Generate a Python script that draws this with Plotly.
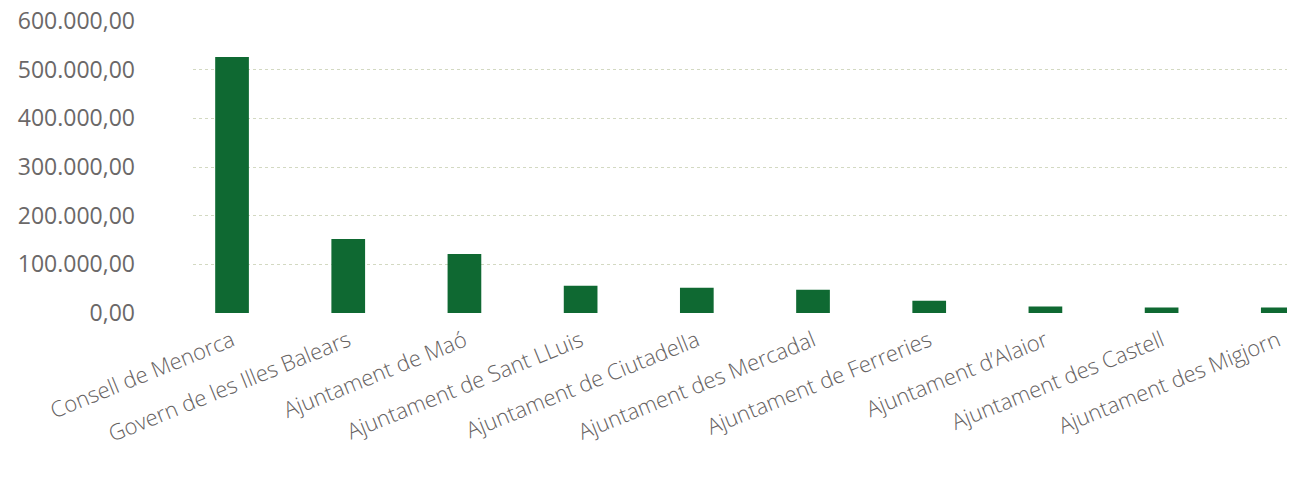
import plotly.graph_objects as go

categories = [
    "Consell de Menorca",
    "Govern de les Illes Balears",
    "Ajuntament de Maó",
    "Ajuntament de Sant LLuis",
    "Ajuntament de Ciutadella",
    "Ajuntament des Mercadal",
    "Ajuntament de Ferreries",
    "Ajuntament d’Alaior",
    "Ajuntament des Castell",
    "Ajuntament des Migjorn",
]
values = [526000, 152000, 121000, 56000, 52000, 48000, 25000, 13500, 11500, 11500]
y_ticks = [0, 100000, 200000, 300000, 400000, 500000, 600000]

fig = go.Figure()
fig.add_trace(go.Bar(
    x=list(range(len(categories))),
    y=values,
    width=0.29,
    marker=dict(color="#0f6932", line=dict(width=0)),
    hoverinfo="y",
))

# the page body adds an 8px offset; margins compensate for it
fig.update_layout(
    width=1295,
    height=479,
    margin=dict(l=185, r=8, t=13, b=174),
    paper_bgcolor="white",
    plot_bgcolor="white",
    separators=",.",
    showlegend=False,
)
fig.update_xaxes(
    range=[-0.336, 9.148],
    tickmode="array",
    tickvals=list(range(len(categories))),
    ticktext=categories,
    tickangle=-22,
    tickfont=dict(family="Open Sans", size=22, color="#666262", weight=300),
    ticklabelstandoff=10,
    ticklabeloverflow="allow",
    automargin=False,
    showgrid=False,
    zeroline=False,
    showline=False,
    ticks="",
)
fig.update_yaxes(
    range=[0, 600000],
    tickmode="array",
    tickvals=y_ticks,
    tickformat=",.2f",
    tickfont=dict(family="Open Sans", size=23, color="#6b6868"),
    ticklabelstandoff=57,
    ticklabeloverflow="allow",
    automargin=False,
    showgrid=True,
    gridcolor="#d3d9c2",
    griddash="dot",
    gridwidth=1,
    zeroline=False,
    showline=False,
    ticks="",
)

fig.write_html("out.html")
